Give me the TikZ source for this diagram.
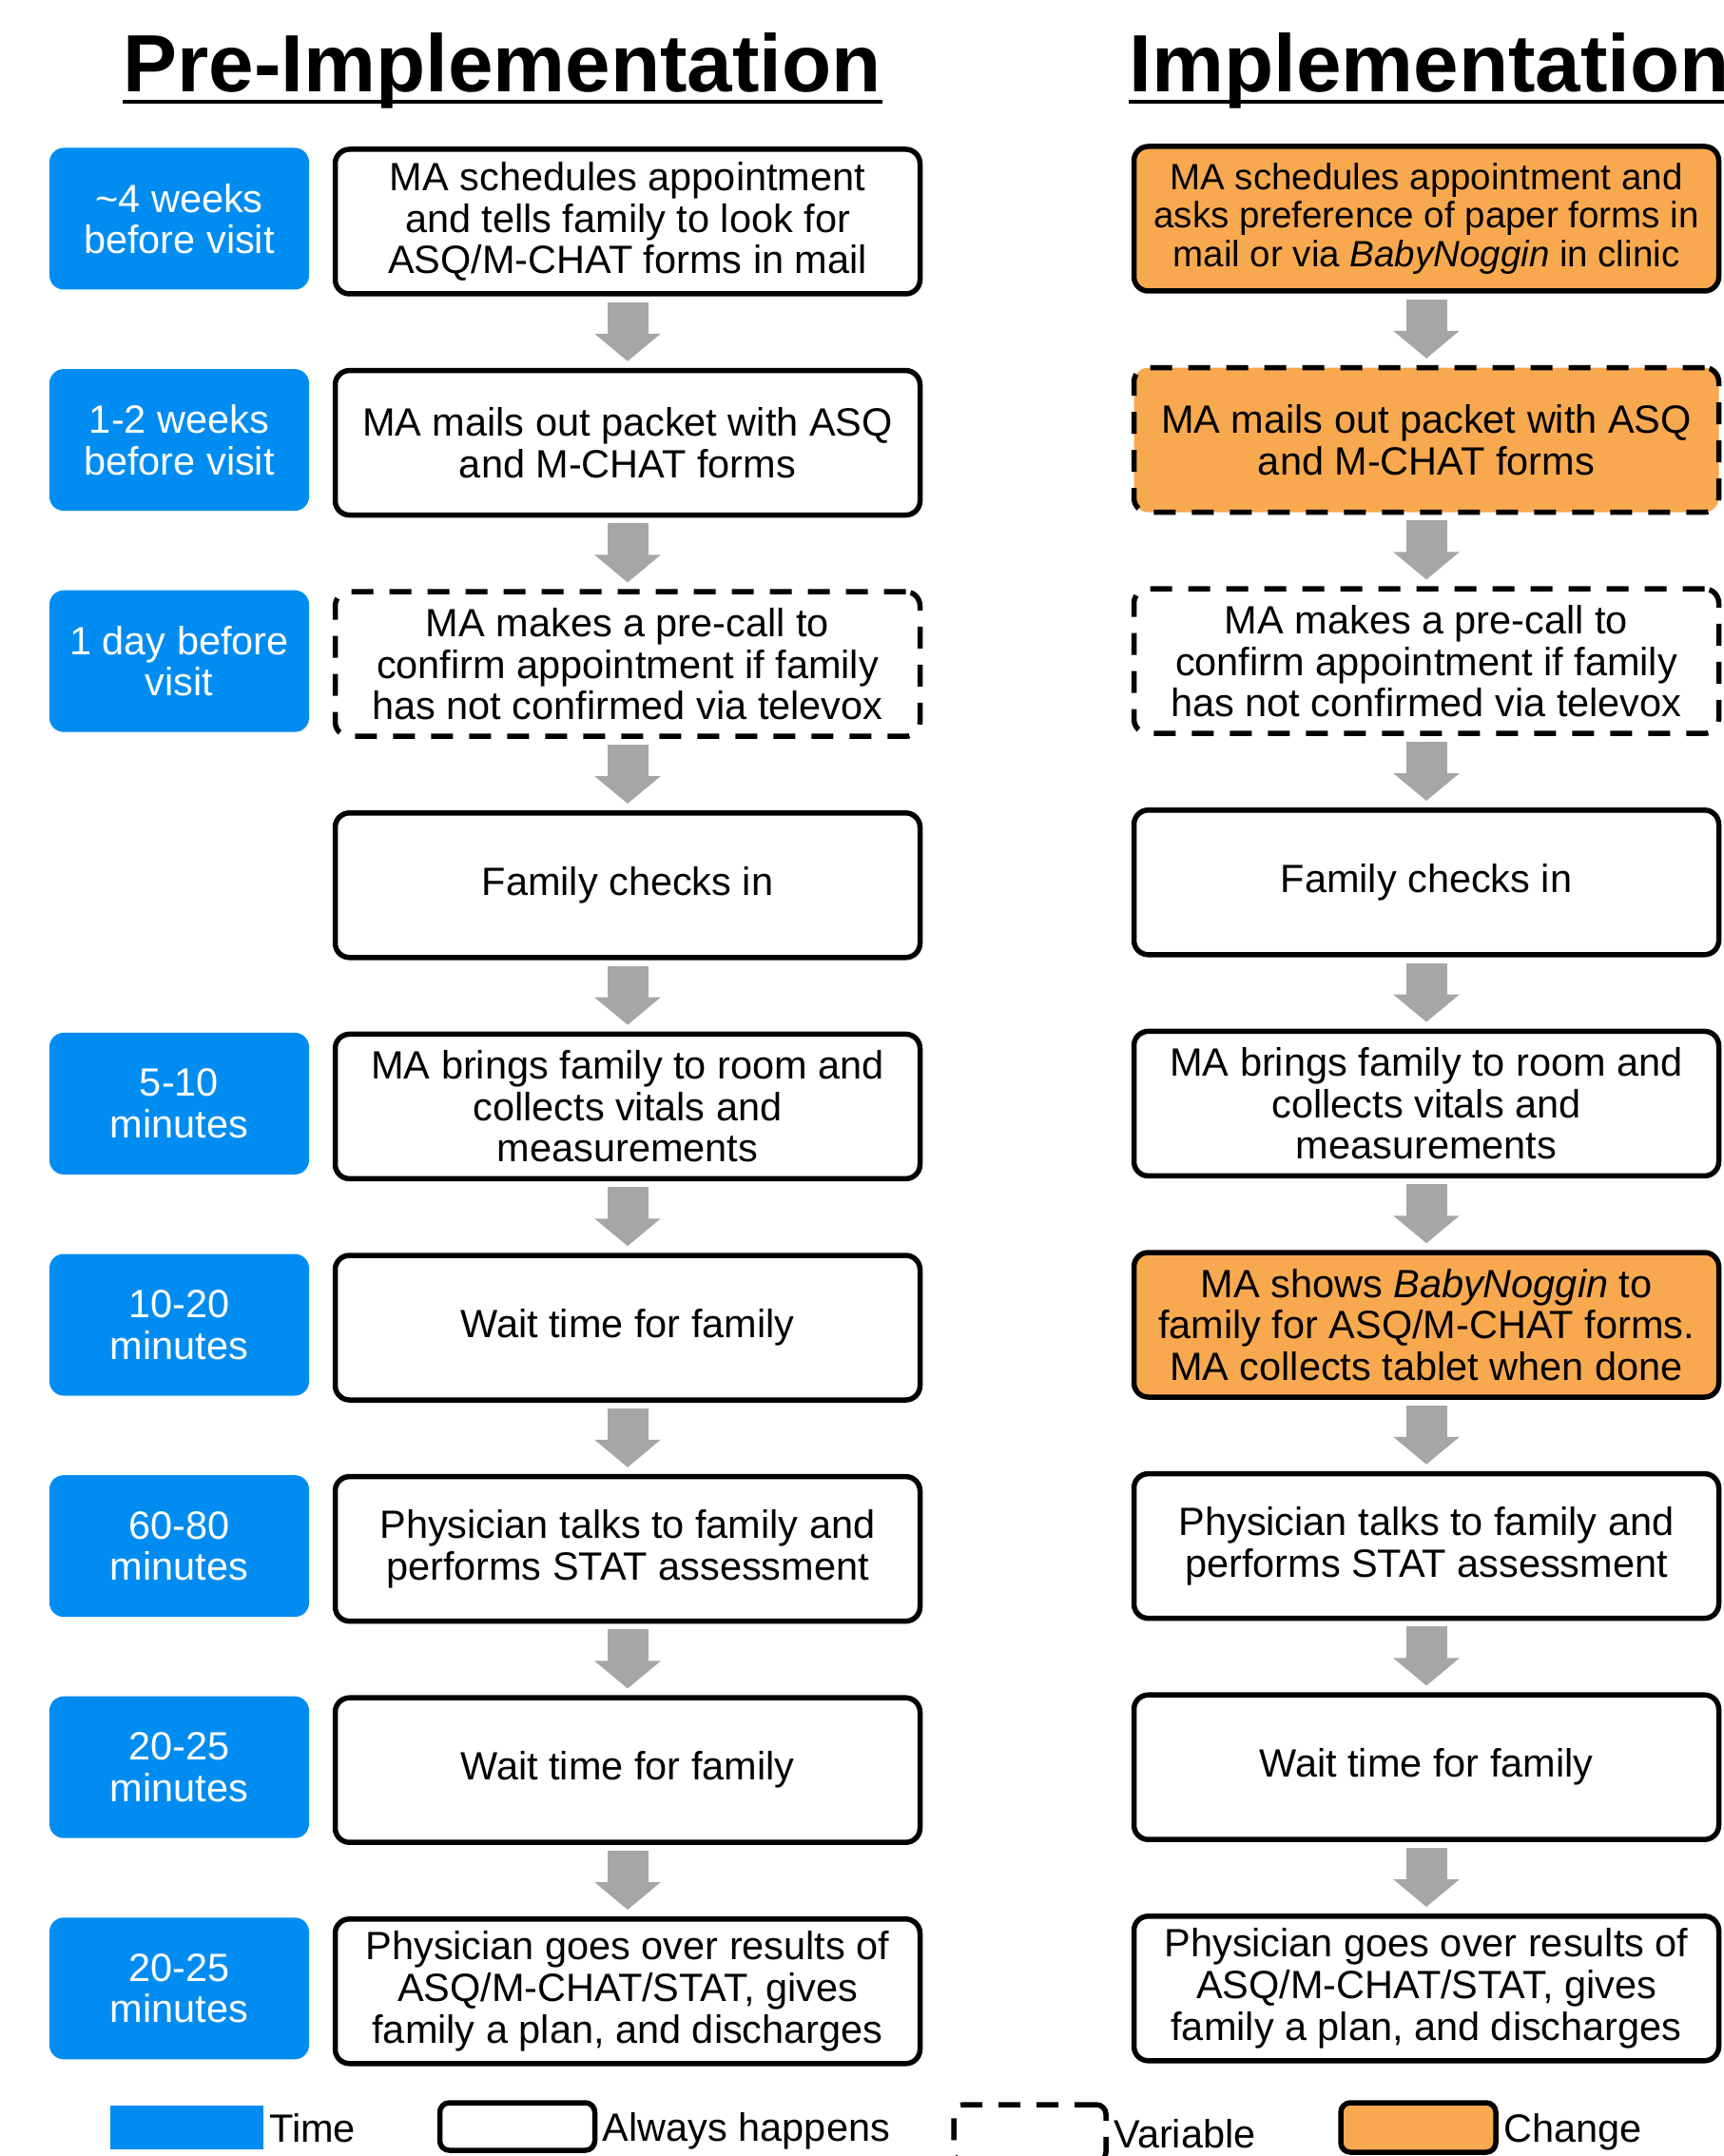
\documentclass[tikz,border=0pt]{standalone}
\usepackage{fontspec}
\setmainfont{Liberation Sans}
\usetikzlibrary{arrows.meta,positioning}
\definecolor{timeblue}{HTML}{008CF0}
\definecolor{changeorange}{HTML}{F8A94F}
\definecolor{arrowgray}{HTML}{A6A6A6}

\begin{document}
\begin{tikzpicture}[
    stepbox/.style={draw, line width=0.055cm, rounded corners=0.15cm, minimum width=6.15cm, minimum height=1.52cm, align=center, inner sep=0.05cm, font=\fontsize{11.8}{12.4}\selectfont},
    varbox/.style={stepbox, dash pattern=on 0.23cm off 0.17cm},
    changebox/.style={fill=changeorange},
    timebox/.style={fill=timeblue, text=white, rounded corners=0.15cm, minimum width=2.73cm, minimum height=1.49cm, align=center, inner sep=0.05cm, font=\fontsize{11.8}{12.4}\selectfont},
    flow/.style={draw=arrowgray, line width=0.43cm, -{Triangle[width=0.68cm 0, length=0.29cm 0]}, shorten <=0.06cm, shorten >=0.07cm},
    title/.style={font=\fontsize{24.3}{26}\selectfont\bfseries, inner sep=0, anchor=base west},
    keytext/.style={inner sep=0.02cm, text height=0.3cm, text depth=0cm, font=\fontsize{11.8}{12.4}\selectfont}
  ]
        \useasboundingbox (0,0) rectangle (18.12,-22.67);
        \node[title] (pretitle) at (1.29,-0.97) {Pre-Implementation};
        \node[title] (imptitle) at (11.87,-0.97) {Implementation};
        \draw[line width=0.04cm] ([yshift=-0.1cm]pretitle.base west) -- ([yshift=-0.1cm]pretitle.base east);
        \draw[line width=0.04cm] ([yshift=-0.1cm]imptitle.base west) -- ([yshift=-0.1cm]imptitle.base east);

        % time column
        \node[timebox] (time1) at (1.885,-2.30) {\textasciitilde4 weeks\\before visit};
        \node[timebox] (time2) at (1.885,-4.626) {1-2 weeks\\before visit};
        \node[timebox] (time3) at (1.885,-6.952) {1 day before\\visit};
        \node[timebox] (time5) at (1.885,-11.604) {5-10\\minutes};
        \node[timebox] (time6) at (1.885,-13.93) {10-20\\minutes};
        \node[timebox] (time7) at (1.885,-16.256) {60-80\\minutes};
        \node[timebox] (time8) at (1.885,-18.582) {20-25\\minutes};
        \node[timebox] (time9) at (1.885,-20.908) {20-25\\minutes};

        % pre-implementation column
        \node[stepbox] (pre1) at (6.60,-2.33) {MA schedules appointment\\and tells family to look for\\ASQ/M-CHAT forms in mail};
        \node[stepbox] (pre2) at (6.60,-4.656) {MA mails out packet with ASQ\\and M-CHAT forms};
        \node[varbox] (pre3) at (6.60,-6.982) {MA makes a pre-call to\\confirm appointment if family\\has not confirmed via televox};
        \node[stepbox] (pre4) at (6.60,-9.308) {Family checks in};
        \node[stepbox] (pre5) at (6.60,-11.634) {MA brings family to room and\\collects vitals and\\measurements};
        \node[stepbox] (pre6) at (6.60,-13.96) {Wait time for family};
        \node[stepbox] (pre7) at (6.60,-16.286) {Physician talks to family and\\performs STAT assessment};
        \node[stepbox] (pre8) at (6.60,-18.612) {Wait time for family};
        \node[stepbox] (pre9) at (6.60,-20.938) {Physician goes over results of\\ASQ/M-CHAT/STAT, gives\\family a plan, and discharges};

        % implementation column
        \node[stepbox, changebox, font=\fontsize{10.95}{11.6}\selectfont] (imp1) at (15.00,-2.30) {MA schedules appointment and\\asks preference of paper forms in\\mail or via \textit{BabyNoggin} in clinic};
        \node[varbox, changebox] (imp2) at (15.00,-4.626) {MA mails out packet with ASQ\\and M-CHAT forms};
        \node[varbox] (imp3) at (15.00,-6.952) {MA makes a pre-call to\\confirm appointment if family\\has not confirmed via televox};
        \node[stepbox] (imp4) at (15.00,-9.278) {Family checks in};
        \node[stepbox] (imp5) at (15.00,-11.604) {MA brings family to room and\\collects vitals and\\measurements};
        \node[stepbox, changebox] (imp6) at (15.00,-13.93) {MA shows \textit{BabyNoggin} to\\family for ASQ/M-CHAT forms.\\MA collects tablet when done};
        \node[stepbox] (imp7) at (15.00,-16.256) {Physician talks to family and\\performs STAT assessment};
        \node[stepbox] (imp8) at (15.00,-18.582) {Wait time for family};
        \node[stepbox] (imp9) at (15.00,-20.908) {Physician goes over results of\\ASQ/M-CHAT/STAT, gives\\family a plan, and discharges};

        \draw[flow] (pre1) -- (pre2);
        \draw[flow] (pre2) -- (pre3);
        \draw[flow] (pre3) -- (pre4);
        \draw[flow] (pre4) -- (pre5);
        \draw[flow] (pre5) -- (pre6);
        \draw[flow] (pre6) -- (pre7);
        \draw[flow] (pre7) -- (pre8);
        \draw[flow] (pre8) -- (pre9);
        \draw[flow] (imp1) -- (imp2);
        \draw[flow] (imp2) -- (imp3);
        \draw[flow] (imp3) -- (imp4);
        \draw[flow] (imp4) -- (imp5);
        \draw[flow] (imp5) -- (imp6);
        \draw[flow] (imp6) -- (imp7);
        \draw[flow] (imp7) -- (imp8);
        \draw[flow] (imp8) -- (imp9);

        % legend
        \node[fill=timeblue, minimum width=1.61cm, minimum height=0.46cm, inner sep=0] (keytime) at (1.965,-22.37) {};
        \node[keytext, right=0.03cm of keytime] (keytimetext) {Time};
        \node[draw, line width=0.055cm, rounded corners=0.1cm, minimum width=1.63cm, minimum height=0.5cm, inner sep=0] (keyalways) at (5.44,-22.36) {};
        \node[keytext, right=0.03cm of keyalways] (keyalwaystext) {Always happens};
        \node[draw, line width=0.055cm, rounded corners=0.1cm, dash pattern=on 0.23cm off 0.17cm, minimum width=1.6cm, minimum height=0.6cm, inner sep=0] (keyvar) at (10.83,-22.43) {};
        \node[keytext, right=0.03cm of keyvar] (keyvartext) {Variable};
        \node[draw, fill=changeorange, line width=0.055cm, rounded corners=0.1cm, minimum width=1.63cm, minimum height=0.52cm, inner sep=0] (keychange) at (14.915,-22.37) {};
        \node[keytext, right=0.03cm of keychange] (keychangetext) {Change};
      \end{tikzpicture}
\end{document}
